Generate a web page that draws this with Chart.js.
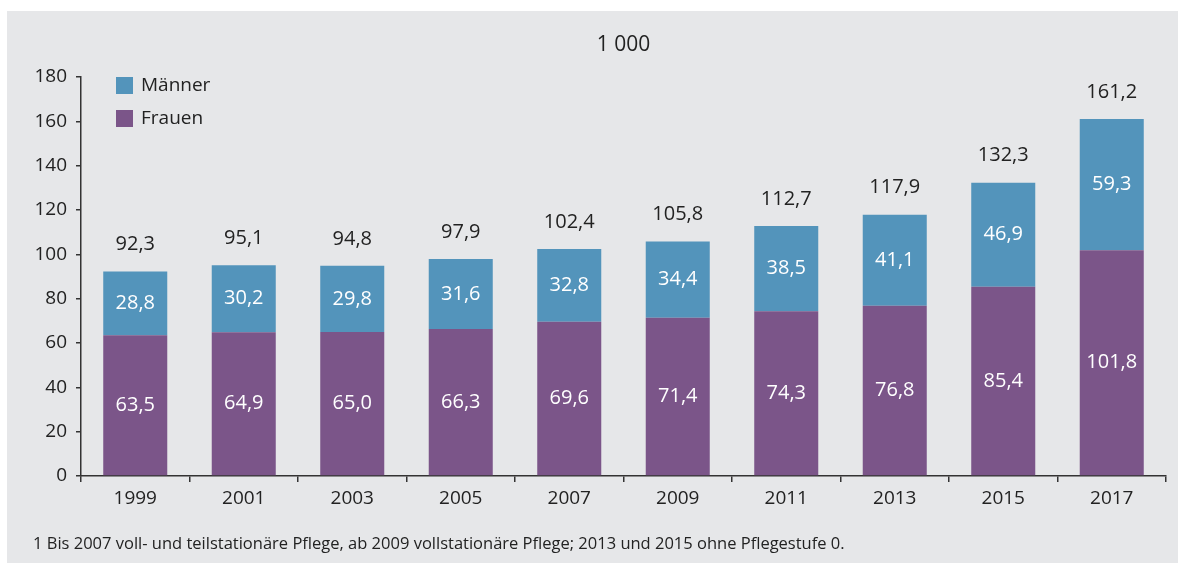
<!DOCTYPE html>
<html>
<head>
<meta charset="utf-8">
<script src="https://cdn.jsdelivr.net/npm/chart.js@4"></script>
<style>
  body { margin: 0; background: #fff; width: 1178px; height: 563px; overflow: hidden; font-family: "Open Sans", sans-serif; }
  #panel { position: absolute; left: 7px; top: 11px; width: 1171px; height: 552px; background: #e6e7e9; }
  #wrap { position: absolute; left: 0; top: 0; width: 1171px; height: 552px; }
  #note { position: absolute; left: 26px; top: 520px; font-size: 16.5px; color: #222; white-space: nowrap; }
</style>
</head>
<body>
<div id="panel">
  <div id="wrap"><canvas id="myChart"></canvas></div>
  <div id="note">1 Bis 2007 voll- und teilstationäre Pflege, ab 2009 vollstationäre Pflege; 2013 und 2015 ohne Pflegestufe 0.</div>
</div>
<script>
const years = ['1999', '2001', '2003', '2005', '2007', '2009', '2011', '2013', '2015', '2017'];
const frauen = [63.5, 64.9, 65.0, 66.3, 69.6, 71.4, 74.3, 76.8, 85.4, 101.8];
const maenner = [28.8, 30.2, 29.8, 31.6, 32.8, 34.4, 38.5, 41.1, 46.9, 59.3];
const totals = [92.3, 95.1, 94.8, 97.9, 102.4, 105.8, 112.7, 117.9, 132.3, 161.2];
const unitLabel = '1 000';

const fontFamily = '"Open Sans", sans-serif';
const textColor = '#222';
const fmt = v => v.toFixed(1).replace('.', ',');

// values inside the bars + totals on top
const barLabels = {
    id: 'barLabels',
    afterDatasetsDraw(chart) {
        const ctx = chart.ctx;
        ctx.save();
        ctx.textAlign = 'center';
        ctx.textBaseline = 'middle';
        ctx.font = '20px ' + fontFamily;
        chart.data.datasets.forEach((ds, di) => {
            const meta = chart.getDatasetMeta(di);
            meta.data.forEach((bar, i) => {
                ctx.fillStyle = '#fff';
                ctx.fillText(fmt(ds.data[i]), bar.x, (bar.y + bar.base) / 2);
            });
        });
        const top = chart.getDatasetMeta(chart.data.datasets.length - 1);
        ctx.fillStyle = textColor;
        top.data.forEach((bar, i) => {
            ctx.fillText(fmt(totals[i]), bar.x, bar.y - 27);
        });
        ctx.restore();
    }
};

// legend inside the plot, top left + unit over the plot centre
const innerLegend = {
    id: 'innerLegend',
    afterDraw(chart) {
        const ctx = chart.ctx;
        const area = chart.chartArea;
        const x = area.left + 35;
        const items = chart.data.datasets.slice().reverse();
        ctx.save();
        ctx.font = '19px ' + fontFamily;
        ctx.textBaseline = 'middle';
        ctx.textAlign = 'left';
        items.forEach((ds, i) => {
            const y = area.top + i * 33;
            ctx.fillStyle = ds.backgroundColor;
            ctx.fillRect(x, y, 17, 17);
            ctx.fillStyle = textColor;
            ctx.fillText(ds.label, x + 25, y + 9);
        });
        ctx.font = '21px ' + fontFamily;
        ctx.textAlign = 'center';
        ctx.fillText(unitLabel, (area.left + area.right) / 2, 34);
        ctx.restore();
    }
};

const ctx = document.getElementById('myChart').getContext('2d');
const myChart = new Chart(ctx, {
    type: 'bar',
    data: {
        labels: years,
        datasets: [{
            label: 'Frauen',
            data: frauen,
            backgroundColor: '#7b5589',
            barPercentage: 0.59,
            categoryPercentage: 1
        }, {
            label: 'Männer',
            data: maenner,
            backgroundColor: '#5394bb',
            barPercentage: 0.59,
            categoryPercentage: 1
        }]
    },
    options: {
        responsive: true,
        maintainAspectRatio: false,
        animation: false,
        layout: { padding: { left: 0, right: 12, top: 66, bottom: 47 } },
        plugins: {
            legend: { display: false },
            tooltip: { enabled: false },
            title: { display: false }
        },
        scales: {
            x: {
                stacked: true,
                border: { color: '#333', width: 1.5 },
                grid: { drawOnChartArea: false, drawTicks: true, tickLength: 6, color: '#333', lineWidth: 1.5 },
                ticks: { color: textColor, font: { family: fontFamily, size: 19 }, padding: 5, maxRotation: 0 },
                afterFit(scale) { scale.height = 40; }
            },
            y: {
                stacked: true,
                min: 0,
                max: 180,
                border: { color: '#333', width: 1.5 },
                grid: { drawOnChartArea: false, drawTicks: true, tickLength: 5, color: '#333', lineWidth: 1.5 },
                ticks: { stepSize: 20, color: textColor, font: { family: fontFamily, size: 19 }, padding: 9 },
                afterFit(scale) { scale.width = 74; }
            }
        }
    },
    plugins: [barLabels, innerLegend]
});
</script>
</body>
</html>
